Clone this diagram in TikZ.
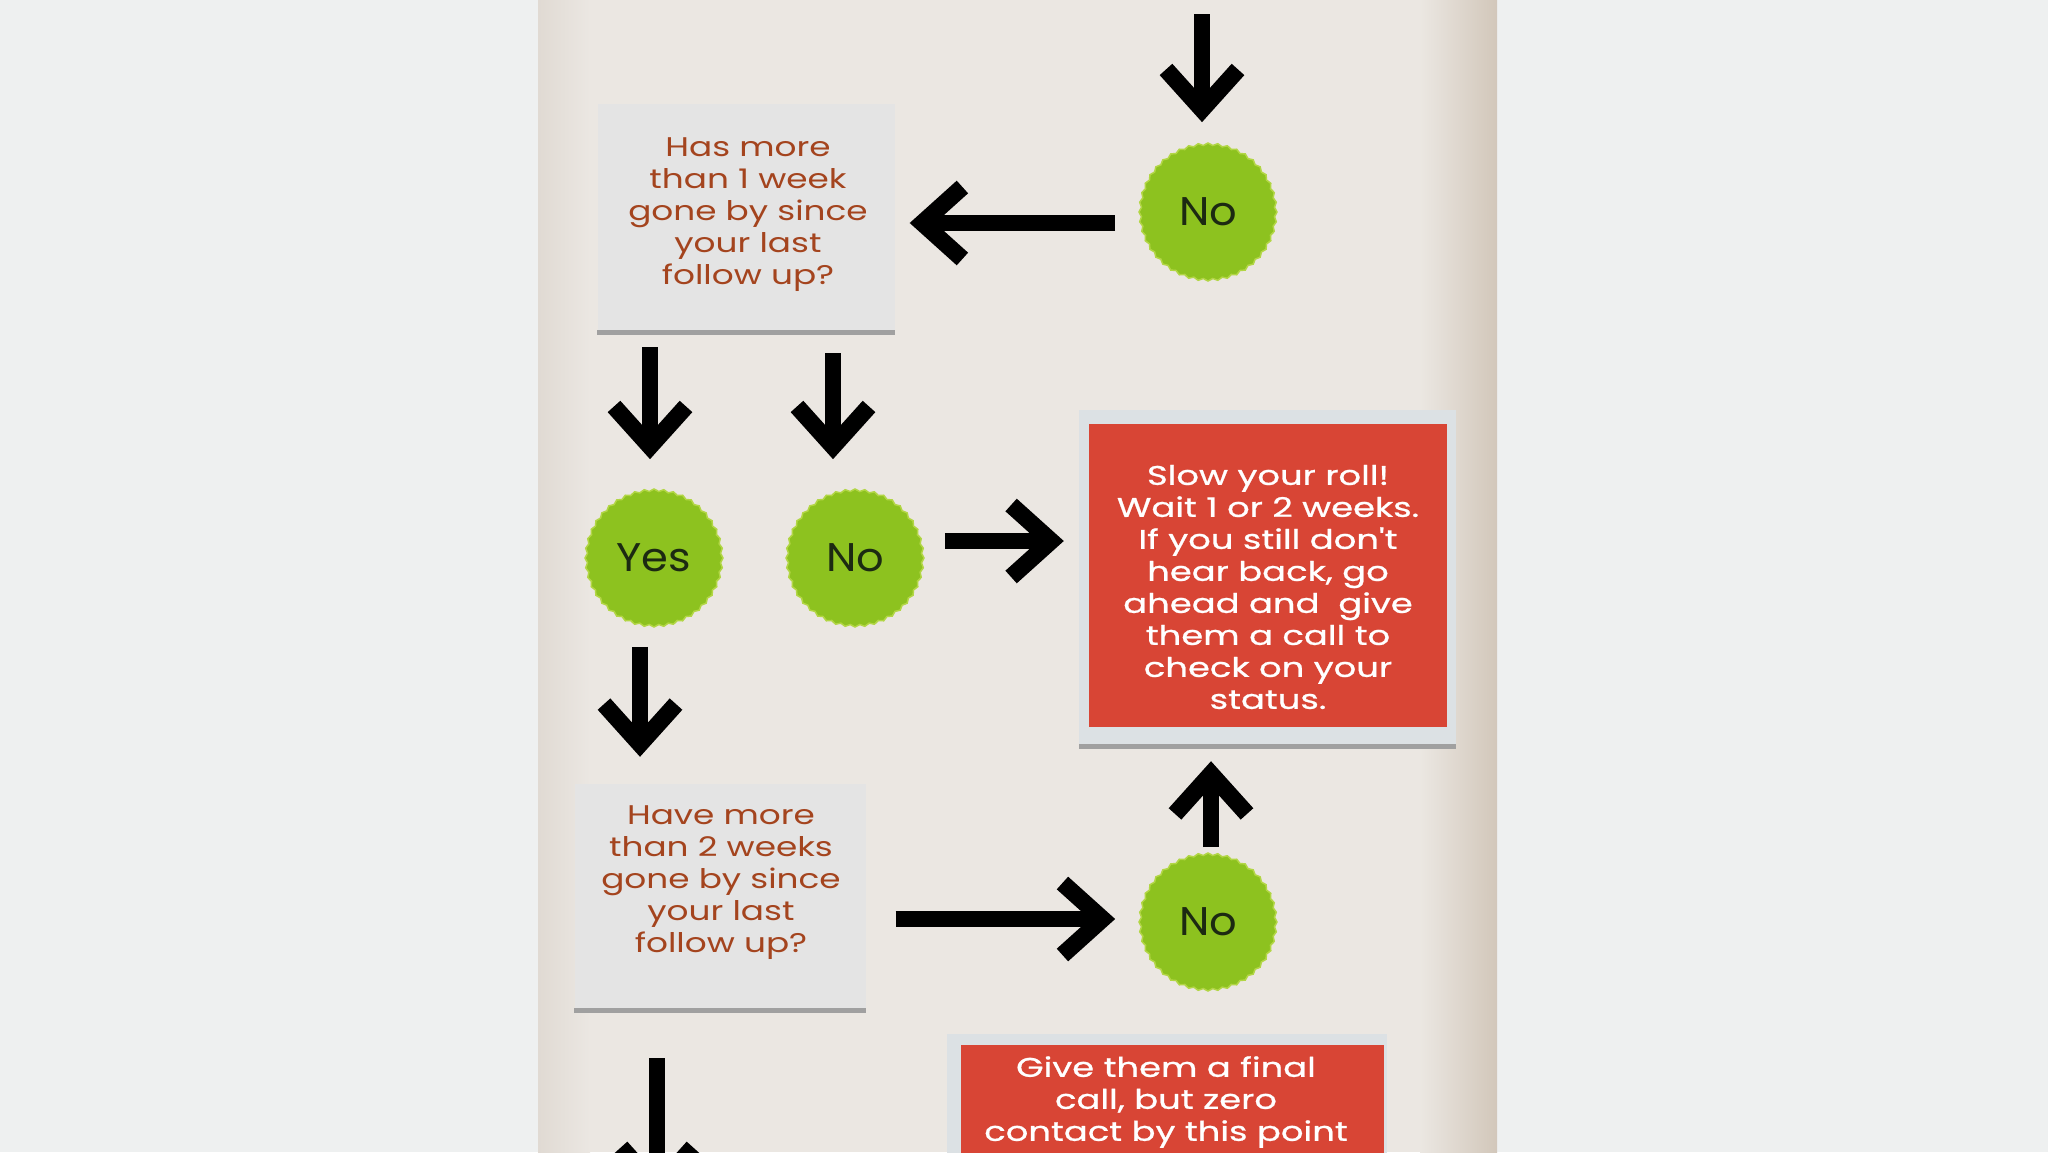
\documentclass[tikz,border=0pt]{standalone}
\usepackage{fontspec}
\setmainfont{Poppins}
\newfontfamily\boxfont{Poppins}[FakeStretch=1.27]
\newfontfamily\circfont{Poppins}[FakeStretch=1.08]
\newfontfamily\redfont{Poppins}[FakeStretch=1.31,FakeBold=0.8]
\usetikzlibrary{arrows.meta,shapes.geometric}
\definecolor{outerbg}{HTML}{EEF0F0}
\definecolor{paper}{HTML}{EBE7E2}
\definecolor{paperedgeL}{HTML}{E0DAD3}
\definecolor{paperedgeR}{HTML}{D2C7BA}
\definecolor{boxgray}{HTML}{E4E4E4}
\definecolor{boxshadow}{HTML}{A0A0A0}
\definecolor{textbrown}{HTML}{A4441E}
\definecolor{redfill}{HTML}{D84535}
\definecolor{redframe}{HTML}{DCE1E4}
\definecolor{gogreen}{HTML}{8DC21F}
\definecolor{greenedge}{HTML}{B2D645}
\definecolor{greentext}{HTML}{1C2A12}
\tikzset{
  arr/.style={line width=16pt, black,
    -{Straight Barb[length=40pt,width=72pt,line width=17pt]}},
  gcirc/.style={star, star points=44, star point ratio=1.035, minimum size=138pt,
    inner sep=0pt, fill=gogreen, draw=greenedge, line width=1.5pt,
    text=greentext, font=\circfont\fontsize{40}{42}\selectfont},
  gbox/.style={rectangle, fill=boxgray, inner sep=0pt},
  btext/.style={align=center, text=textbrown, inner sep=0pt,
    font=\boxfont\fontsize{27}{32}\selectfont},
  rframe/.style={rectangle, fill=redframe, inner sep=0pt},
  rbox/.style={rectangle, fill=redfill, inner sep=0pt},
  rtext/.style={align=center, text=white, inner sep=0pt,
    font=\redfont\fontsize{27}{32}\selectfont},
}
\begin{document}
\begin{tikzpicture}[x=1pt,y=-1pt]
\useasboundingbox (0,0) rectangle (2048,1152);
\clip (0,0) rectangle (2048,1152);
% backgrounds
\fill[outerbg] (0,0) rectangle (2048,1152);
\fill[paper] (538,0) rectangle (1497,1152);
\shade[left color=paperedgeL, right color=paper] (538,0) rectangle (590,1152);
\shade[left color=paper, right color=paperedgeR] (1420,0) rectangle (1497,1152);
% gray boxes
\node[gbox, minimum width=297pt, minimum height=226pt] (box1) at (746,217) {};
\fill[boxshadow] (box1.south west) rectangle ([yshift=-5pt]box1.south east);
\node[btext] (box1t) at (748,215) {Has more\\than 1 week\\gone by since\\your last\\follow up?};
\node[gbox, minimum width=291pt, minimum height=224pt] (box2) at (720,896) {};
\fill[boxshadow] (box2.south west) rectangle ([yshift=-5pt]box2.south east);
\node[btext] (box2t) at (721,883) {Have more\\than 2 weeks\\gone by since\\your last\\follow up?};
% red boxes
\node[rframe, minimum width=377pt, minimum height=334pt] (red1f) at (1267.5,577) {};
\fill[boxshadow] (red1f.south west) rectangle ([yshift=-5pt]red1f.south east);
\node[rbox, minimum width=358pt, minimum height=303pt] (red1) at (1268,575.5) {};
\node[rtext] (red1t) at (1268,587) {Slow your roll!\\Wait 1 or 2 weeks.\\If you still don't\\hear back, go\\ahead and~ give\\them a call to\\check on your\\status.};
\node[rframe, anchor=north, minimum width=440pt, minimum height=250pt] (red2f) at (1167,1034) {};
\node[rbox, anchor=north, minimum width=423pt, minimum height=240pt] (red2) at (1172.5,1045) {};
\node[rtext] (red2t) at (1166,1102) {Give them a final\\call, but zero\\contact by this point};
% circles
\node[gcirc] (no1) at (1208,212) {No};
\node[gcirc] (yes) at (654,558) {Yes};
\node[gcirc] (no2) at (855,558) {No};
\node[gcirc] (no3) at (1208,922) {No};
% free ends
\coordinate (topin) at (1202,14);
\coordinate (botout) at (657,1200);
% connectors
\draw[arr, shorten >=20pt] (topin) -- (topin |- no1.north);
\draw[arr, shorten <=23pt, shorten >=15pt] ([yshift=-11pt]no1.west) -- ([yshift=-11pt]no1.west -| box1.east);
\draw[arr, shorten <=17pt, shorten >=29pt] ([xshift=-4pt]yes.north |- box1.south) -- ([xshift=-4pt]yes.north);
\draw[arr, shorten <=23pt, shorten >=29pt] ([xshift=-22pt]no2.north |- box1.south) -- ([xshift=-22pt]no2.north);
\draw[arr, shorten <=20pt, shorten >=15pt] ([yshift=17pt]no2.east) -- ([yshift=17pt]no2.east -| red1f.west);
\draw[arr, shorten <=19pt, shorten >=27pt] ([xshift=-14pt]yes.south) -- ([xshift=-14pt]yes.south |- box2.north);
\draw[arr, shorten <=30pt, shorten >=23pt] ([yshift=-23pt]box2.east) -- ([yshift=-23pt]box2.east -| no3.west);
\draw[arr, shorten <=5pt, shorten >=17pt] ([xshift=3pt]no3.north) -- ([xshift=3pt]no3.north |- red1f.south);
\draw[arr, shorten <=50pt] (box2.south -| botout) -- (botout);
\end{tikzpicture}
\end{document}
